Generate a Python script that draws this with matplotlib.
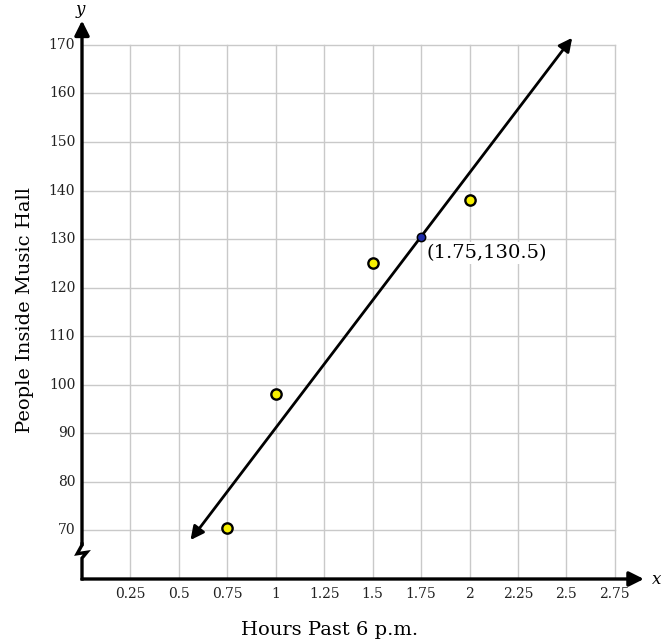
import matplotlib
matplotlib.use("Agg")
import matplotlib.pyplot as plt
import numpy as np

# Data
hours = [0.75, 1.0, 1.5, 2.0]
people = [70.5, 98, 125, 138]
highlight_x, highlight_y = 1.75, 130.5
line_x_ends = [0.56, 2.53]
line_slope = 52.5
line_intercept = highlight_y - line_slope * highlight_x

x_ticks = [0.25, 0.5, 0.75, 1, 1.25, 1.5, 1.75, 2, 2.25, 2.5, 2.75]
x_tick_labels = ["0.25", "0.5", "0.75", "1", "1.25", "1.5", "1.75", "2", "2.25", "2.5", "2.75"]
y_ticks = [70, 80, 90, 100, 110, 120, 130, 140, 150, 160, 170]
y_tick_labels = [str(v) for v in y_ticks]

plt.rcParams['font.family'] = ['DejaVu Serif']

fig = plt.figure(figsize=(6.65, 6.44), dpi=100)
ax = fig.add_axes([82 / 665, (644 - 579) / 644, 558 / 665, 557 / 644])
x_min, x_max = 0, 2.88
y_min, y_max = 60, 174.7
ax.set_xlim(x_min, x_max)
ax.set_ylim(y_min, y_max)
for s in ax.spines.values():
    s.set_visible(False)
ax.set_xticks([])
ax.set_yticks([])

grid_c = "#c9c9c9"
for xv in x_ticks:
    ax.plot([xv, xv], [y_min, y_ticks[-1]], color=grid_c, lw=1, zorder=1)
for yv in y_ticks:
    ax.plot([0, x_ticks[-1]], [yv, yv], color=grid_c, lw=1, zorder=1)

# Tick labels
for xv, lab in zip(x_ticks, x_tick_labels):
    ax.text(xv, y_min - 3.1, lab, ha="center", va="center", fontsize=10, color="#222222")
for yv, lab in zip(y_ticks, y_tick_labels):
    ax.text(-0.035, yv, lab, ha="right", va="center", fontsize=10, color="#222222")

# x axis with arrow
ax.annotate("", xy=(x_max + 0.02, y_min), xytext=(0, y_min),
            arrowprops=dict(arrowstyle="-|>", color="black", lw=2.4,
                            mutation_scale=22, shrinkA=0, shrinkB=0),
            annotation_clip=False, zorder=5)
# y axis with break zigzag and arrow
ax.annotate("", xy=(0, y_max + 0.3), xytext=(0, 67.0),
            arrowprops=dict(arrowstyle="-|>", color="black", lw=2.4,
                            mutation_scale=22, shrinkA=0, shrinkB=0),
            annotation_clip=False, zorder=5)
zx = [0, 0, 0.025, -0.025, 0.0, 0]
zy = [y_min, 64.3, 65.5, 65.2, 67.0, 67.2]
ax.plot(zx, zy, color="black", lw=2.4, zorder=5, clip_on=False, solid_joinstyle="miter")

ax.text(x_max + 0.06, y_min, "x", fontsize=12, style="italic", ha="left", va="center")
ax.text(-0.01, y_max + 2.6, "y", fontsize=12, style="italic", ha="center", va="center")

# Line of fit with arrowheads
ly = [line_slope * xv + line_intercept for xv in line_x_ends]
ax.annotate("", xy=(line_x_ends[1], ly[1]), xytext=(line_x_ends[0], ly[0]),
            arrowprops=dict(arrowstyle="<|-|>", color="black", lw=2,
                            mutation_scale=20, shrinkA=0, shrinkB=0),
            annotation_clip=False, zorder=3)

ax.scatter(hours, people, s=55, facecolor="#f7f000", edgecolor="black", linewidth=1.7, zorder=4)
ax.scatter([highlight_x], [highlight_y], s=36, facecolor="#1c2aa8", edgecolor="black", linewidth=1.1, zorder=4)

ax.text(highlight_x + 0.03, highlight_y - 3.3, f"({highlight_x},{highlight_y})", fontsize=14,
        ha="left", va="center", zorder=3,
        bbox=dict(facecolor="white", edgecolor="none", pad=1.5))

fig.text(330 / 665, 1 - 630 / 644, "Hours Past 6 p.m.", fontsize=14, ha="center", va="center")
fig.text(25 / 665, 1 - 310 / 644, "People Inside Music Hall", fontsize=14, rotation=90,
         ha="center", va="center")

fig.savefig("out.png", dpi=100)
